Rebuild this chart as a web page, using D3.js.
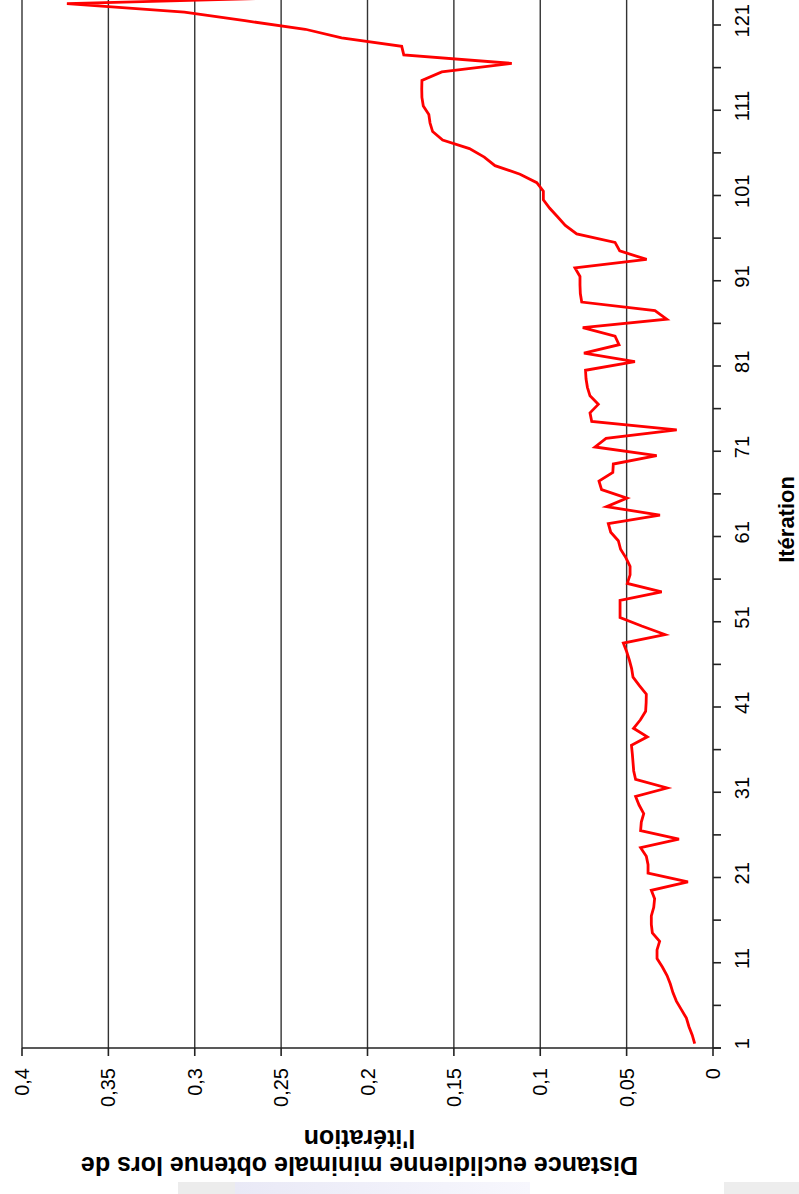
<!DOCTYPE html>
<html>
<head>
<meta charset="utf-8">
<script src="https://cdn.jsdelivr.net/npm/d3@7"></script>
<style>
html,body{margin:0;padding:0;background:#fff;}
svg{display:block;}
text{font-family:Arial,"Liberation Sans",sans-serif;fill:#000;}
</style>
</head>
<body>
<div id="chart"></div>
<script>
// ---- data ----
const iterations = d3.range(1, 125);
const distances = [
  0.0106,0.0120,0.0139,0.0154,0.0183,0.0212,0.0232,0.0247,0.0266,0.0293,
  0.0324,0.0324,0.0309,0.0351,0.0357,0.0357,0.0343,0.0338,0.0357,0.0145,
  0.0376,0.0376,0.0386,0.0419,0.0197,0.0419,0.0415,0.0401,0.0428,0.0448,
  0.0266,0.0448,0.0459,0.0463,0.0467,0.0472,0.0380,0.0460,0.0420,0.0390,
  0.0387,0.0386,0.0426,0.0463,0.0471,0.0484,0.0500,0.0519,0.0278,0.0413,
  0.0538,0.0538,0.0538,0.0297,0.0496,0.0480,0.0480,0.0504,0.0535,0.0548,
  0.0592,0.0606,0.0307,0.0616,0.0498,0.0645,0.0660,0.0580,0.0577,0.0326,
  0.0683,0.0619,0.0210,0.0702,0.0712,0.0664,0.0712,0.0727,0.0735,0.0738,
  0.0452,0.0747,0.0544,0.0567,0.0754,0.0268,0.0336,0.0760,0.0768,0.0770,
  0.0770,0.0799,0.0384,0.0540,0.0567,0.0789,0.0855,0.0900,0.0945,0.0982,
  0.0982,0.1020,0.1117,0.1262,0.1324,0.1410,0.1565,0.1623,0.1638,0.1645,
  0.1677,0.1685,0.1686,0.1685,0.1570,0.1165,0.1790,0.1802,0.2150,0.2360,
  0.2710,0.3060,0.3740,0.1900
];
const valueTicks = [0, 0.05, 0.1, 0.15, 0.2, 0.25, 0.3, 0.35, 0.4];
const valueTickLabels = ["0","0,05","0,1","0,15","0,2","0,25","0,3","0,35","0,4"];
const iterTickLabels = [1, 11, 21, 31, 41, 51, 61, 71, 81, 91, 101, 111, 121];
const xTitle = "Itération";
const yTitleLines = ["Distance euclidienne minimale obtenue lors de", "l'itération"];

// ---- layout (chart drawn in its natural orientation, then rotated -90deg) ----
const W = 799, H = 1194;
const svg = d3.select("#chart").append("svg").attr("width", W).attr("height", H);

// faint screenshot strip at the bottom
const strip = svg.append("g");
const grad = svg.append("defs").append("linearGradient").attr("id","lav").attr("x1","0").attr("x2","1");
grad.append("stop").attr("offset","0").attr("stop-color","#e9e9f6");
grad.append("stop").attr("offset","1").attr("stop-color","#f7f7fd");
strip.append("rect").attr("x",178).attr("y",1182).attr("width",57).attr("height",12).attr("fill","#ececec");
strip.append("rect").attr("x",235).attr("y",1182).attr("width",295).attr("height",12).attr("fill","url(#lav)");
strip.append("rect").attr("x",724).attr("y",1182).attr("width",75).attr("height",12).attr("fill","#ededed");

const g = svg.append("g").attr("transform", `translate(0,${H}) rotate(-90)`);

const nCat = iterations.length;
const step = 8.525;
const u0 = 146;
const x = d3.scaleLinear().domain([0, nCat]).range([u0, u0 + nCat * step]);
const y = d3.scaleLinear().domain([0, 0.4]).range([713, 22]);
const xEnd = x(nCat);
const axisColor = "#222";

// gridlines
g.append("g").selectAll("line").data(valueTicks.filter(d => d > 0)).join("line")
  .attr("x1", u0).attr("x2", xEnd)
  .attr("y1", d => y(d)).attr("y2", d => y(d))
  .attr("stroke", "#333").attr("stroke-width", 1.4);

// x (iteration) axis
const xAxisG = g.append("g");
xAxisG.append("line").attr("x1", u0).attr("x2", xEnd).attr("y1", y(0)).attr("y2", y(0))
  .attr("stroke", axisColor).attr("stroke-width", 1.6);
xAxisG.selectAll("line.tick").data(d3.range(0, nCat + 1, 5)).join("line").attr("class","tick")
  .attr("x1", d => x(d)).attr("x2", d => x(d))
  .attr("y1", y(0)).attr("y2", y(0) + 8)
  .attr("stroke", axisColor).attr("stroke-width", 1.6);
xAxisG.selectAll("text").data(iterTickLabels).join("text")
  .attr("x", d => x(d - 0.5)).attr("y", y(0) + 36)
  .attr("text-anchor", "middle").attr("font-size", 20)
  .text(d => d);

// y (value) axis
const yAxisG = g.append("g");
yAxisG.append("line").attr("x1", u0).attr("x2", u0).attr("y1", y(0.4)).attr("y2", y(0) + 8)
  .attr("stroke", axisColor).attr("stroke-width", 1.6);
yAxisG.selectAll("line.tick").data(valueTicks).join("line").attr("class","tick")
  .attr("x1", u0 - 8).attr("x2", u0)
  .attr("y1", d => y(d)).attr("y2", d => y(d))
  .attr("stroke", axisColor).attr("stroke-width", 1.6);
yAxisG.selectAll("text").data(valueTicks).join("text")
  .attr("x", u0 - 20).attr("y", d => y(d) + 7)
  .attr("text-anchor", "end").attr("font-size", 20)
  .text((d, i) => valueTickLabels[i]);

// data line
const line = d3.line().x((d, i) => x(iterations[i] - 0.5)).y(d => y(d));
g.append("path").datum(distances)
  .attr("d", line).attr("fill", "none")
  .attr("stroke", "#ff0000").attr("stroke-width", 2.8).attr("stroke-linejoin", "miter");

// axis titles
g.append("text").attr("x", (u0 + xEnd) / 2).attr("y", 794)
  .attr("text-anchor", "middle").attr("font-size", 22).attr("font-weight", "bold")
  .text(xTitle);
const yt = g.append("text").attr("transform", `translate(37,${(y(0) + y(0.4)) / 2 - 8}) rotate(-90)`)
  .attr("text-anchor", "middle").attr("font-size", 25).attr("font-weight", "bold");
yTitleLines.forEach((t, i) => {
  yt.append("tspan").attr("x", 0).attr("dy", i === 0 ? 0 : 27).text(t);
});
</script>
</body>
</html>
